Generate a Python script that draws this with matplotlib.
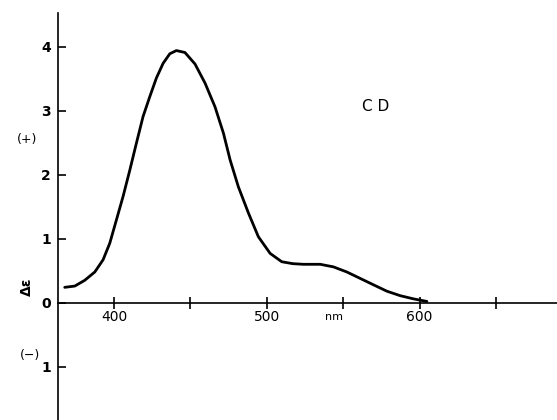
import matplotlib.pyplot as plt
import numpy as np

# CD spectrum
wavelength = [367.7, 374.3, 380.8, 387.4, 392.8, 397.2, 401.5, 405.9, 410.3, 414.6, 419.0, 423.4,
              427.7, 432.1, 436.5, 440.8, 446.4, 453.0, 459.6, 466.1, 471.6, 476.0, 481.4, 488.0,
              494.5, 502.2, 509.8, 517.0, 524.0, 535.0, 543.6, 552.4, 561.1, 569.8, 578.6, 587.3,
              596.0, 604.8]
delta_eps = [0.24, 0.26, 0.35, 0.48, 0.67, 0.93, 1.29, 1.66, 2.07, 2.49, 2.91, 3.22,
             3.51, 3.74, 3.89, 3.94, 3.91, 3.73, 3.43, 3.06, 2.65, 2.23, 1.81, 1.40,
             1.03, 0.77, 0.64, 0.61, 0.60, 0.60, 0.56, 0.48, 0.38, 0.28, 0.18, 0.11,
             0.06, 0.02]

x_ticks = [400, 450, 500, 550, 600, 650]
x_labels = ['400', '', '500', '', '600', '']
y_ticks = [-1, 0, 1, 2, 3, 4]
y_labels = ['1', '0', '1', '2', '3', '4']

W, H = 557, 420
fig = plt.figure(figsize=(W / 100, H / 100), dpi=100)
ax = fig.add_axes([58 / W, 0, 1 - 58 / W, 1 - 13 / H])

ax.plot(wavelength, delta_eps, color='black', lw=2, solid_capstyle='round',
        solid_joinstyle='round')

ax.set_xlim(363.3, 690)
ax.set_ylim(-1.833, 4.527)

ax.spines['top'].set_visible(False)
ax.spines['right'].set_visible(False)
ax.spines['bottom'].set_position(('data', 0))
ax.spines['left'].set_linewidth(1.2)
ax.spines['bottom'].set_linewidth(1.2)

ax.set_xticks(x_ticks)
ax.set_xticklabels(x_labels, fontsize=10)
ax.set_yticks(y_ticks)
ax.set_yticklabels(y_labels, fontsize=10, fontweight='bold')
ax.tick_params(axis='x', direction='inout', length=8, width=1.2, pad=1)
ax.tick_params(axis='y', direction='in', length=6, width=1.2, pad=5)

ax.text(571, 3.06, 'C D', fontsize=11, ha='center', va='center')
ax.text(544, -0.22, 'nm', fontsize=8, ha='center', va='center')

fig.text(26.7 / W, 1 - 140 / H, '(+)', fontsize=9, ha='center', va='center')
fig.text(30 / W, 1 - 355 / H, '(\u2212)', fontsize=9, ha='center', va='center')
fig.text(26.7 / W, 1 - 287 / H, '\u0394\u03b5', fontsize=10, ha='center', va='center',
         rotation=90, fontweight='bold')

fig.savefig('out.png', dpi=100)
